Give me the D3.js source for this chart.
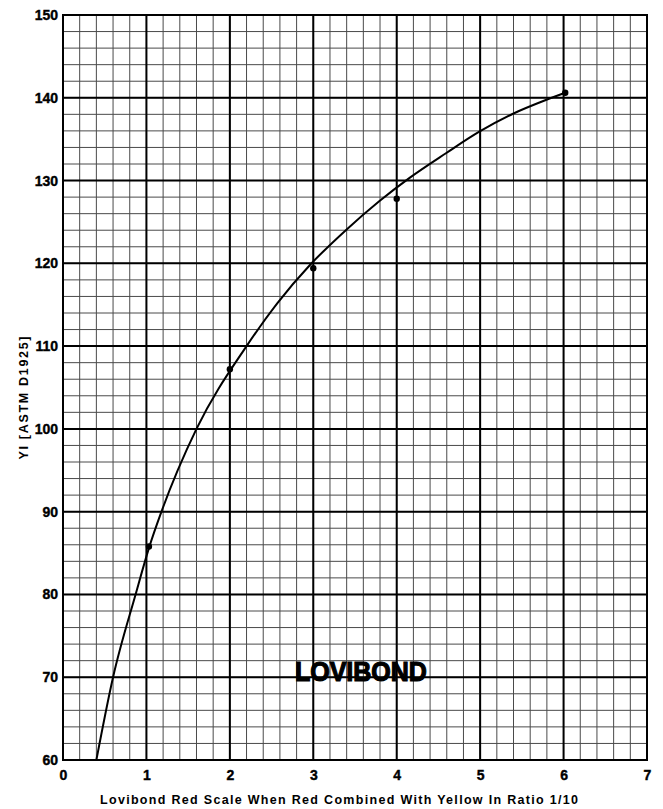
<!DOCTYPE html>
<html>
<head>
<meta charset="utf-8">
<script src="https://cdn.jsdelivr.net/npm/d3@7"></script>
<style>
  body { margin: 0; background: #fff; }
  svg { display: block; }
  .tick text { font-family: "Liberation Sans", Arial, sans-serif; font-weight: bold; fill: #000; stroke: #000; stroke-width: 0.4px; }
</style>
</head>
<body>
<svg id="chart"></svg>
<script>
// Measured points (Lovibond red vs YI)
const redValues = [1.03, 2.0, 3.0, 4.0, 6.02];
const yiValues = [85.8, 107.2, 119.4, 127.8, 140.6];

// Fitted curve
const curveRed = [0.40, 0.60, 0.87, 1.03, 1.18, 1.60, 2.20, 2.57, 2.96, 3.40, 3.79, 4.15, 4.59, 4.99, 5.40, 5.78, 6.02];
const curveYI = [60, 70, 80, 85.6, 90, 100, 110, 115.2, 119.8, 124.1, 127.5, 130.3, 133.3, 135.9, 138.1, 139.7, 140.6];

const xTicks = [0, 1, 2, 3, 4, 5, 6, 7];
const yTicks = [60, 70, 80, 90, 100, 110, 120, 130, 140, 150];

const xTitle = "Lovibond Red Scale When Red Combined With Yellow In Ratio 1/10";
const yTitle = "YI [ASTM D1925]";
const stamp = "LOVIBOND";

let width = 663,
  height = 809,
  margin = { top: 15, right: 16, bottom: 49, left: 63 };

const svg = d3.select("#chart").attr("width", width).attr("height", height);

const x = d3.scaleLinear().domain([0, 7]).range([margin.left, width - margin.right]);
const y = d3.scaleLinear().domain([60, 150]).range([height - margin.bottom, margin.top]);

// minor grid: every 0.2 on x, every 2 on y
const xMinor = d3.range(0, 7.001, 0.2).map(d => +d.toFixed(1));
const yMinor = d3.range(60, 150.001, 2);

const grid = svg.append("g");
grid.selectAll(".vmin")
  .data(xMinor)
  .enter()
  .append("line")
  .attr("x1", d => x(d)).attr("x2", d => x(d))
  .attr("y1", y(60)).attr("y2", y(150))
  .attr("stroke", "#4a4a4a")
  .attr("stroke-width", 1);

grid.selectAll(".hmin")
  .data(yMinor)
  .enter()
  .append("line")
  .attr("y1", d => y(d)).attr("y2", d => y(d))
  .attr("x1", x(0)).attr("x2", x(7))
  .attr("stroke", "#4a4a4a")
  .attr("stroke-width", 1);

// major grid
grid.selectAll(".vmaj")
  .data(xTicks)
  .enter()
  .append("line")
  .attr("x1", d => x(d)).attr("x2", d => x(d))
  .attr("y1", y(60)).attr("y2", y(150))
  .attr("stroke", "#000")
  .attr("stroke-width", 2);

grid.selectAll(".hmaj")
  .data(yTicks)
  .enter()
  .append("line")
  .attr("y1", d => y(d)).attr("y2", d => y(d))
  .attr("x1", x(0)).attr("x2", x(7))
  .attr("stroke", "#000")
  .attr("stroke-width", 2);

// frame
svg.append("rect")
  .attr("x", x(0)).attr("y", y(150))
  .attr("width", x(7) - x(0)).attr("height", y(60) - y(150))
  .attr("fill", "none")
  .attr("stroke", "#000")
  .attr("stroke-width", 2);

// axes (labels only)
const xAxis = svg.append("g")
  .attr("transform", "translate(0," + y(60) + ")")
  .call(d3.axisBottom(x).tickValues(xTicks).tickSize(0).tickPadding(10).tickFormat(d3.format("d")));
xAxis.select(".domain").remove();
xAxis.selectAll("text").style("font-size", "14px");

const yAxis = svg.append("g")
  .attr("transform", "translate(" + x(0) + ",0)")
  .call(d3.axisLeft(y).tickValues(yTicks).tickSize(0).tickPadding(5).tickFormat(d3.format("d")));
yAxis.select(".domain").remove();
yAxis.selectAll("text").style("font-size", "14px");

// curve
const curvePts = curveRed.map((r, i) => [r, curveYI[i]]);
const line = d3.line()
  .x(d => x(d[0]))
  .y(d => y(d[1]))
  .curve(d3.curveMonotoneX);

svg.append("path")
  .datum(curvePts)
  .attr("d", line)
  .attr("fill", "none")
  .attr("stroke", "#000")
  .attr("stroke-width", 2);

// data points
svg.selectAll(".pt")
  .data(redValues.map((r, i) => [r, yiValues[i]]))
  .enter()
  .append("circle")
  .attr("cx", d => x(d[0]))
  .attr("cy", d => y(d[1]))
  .attr("r", 3.2)
  .attr("fill", "#000");

// titles
svg.append("text")
  .text(xTitle)
  .attr("x", 339)
  .attr("y", 804)
  .attr("text-anchor", "middle")
  .attr("textLength", 478)
  .attr("lengthAdjust", "spacing")
  .style("font-family", "Liberation Sans, Arial, sans-serif")
  .style("font-weight", "bold")
  .style("font-size", "12.5px");

svg.append("text")
  .text(yTitle)
  .attr("transform", "translate(28,398) rotate(-90)")
  .attr("text-anchor", "middle")
  .attr("textLength", 123)
  .attr("lengthAdjust", "spacing")
  .style("font-family", "Liberation Sans, Arial, sans-serif")
  .style("font-weight", "bold")
  .style("font-size", "12.5px");

// stamp label inside the plot
svg.append("text")
  .text(stamp)
  .attr("x", x(2.78))
  .attr("y", y(69.6))
  .attr("textLength", 132)
  .attr("lengthAdjust", "spacingAndGlyphs")
  .style("font-family", "Liberation Sans, Arial, sans-serif")
  .style("font-weight", "bold")
  .style("font-size", "27px")
  .style("stroke", "#000")
  .style("stroke-width", "1.2px");
</script>
</body>
</html>
